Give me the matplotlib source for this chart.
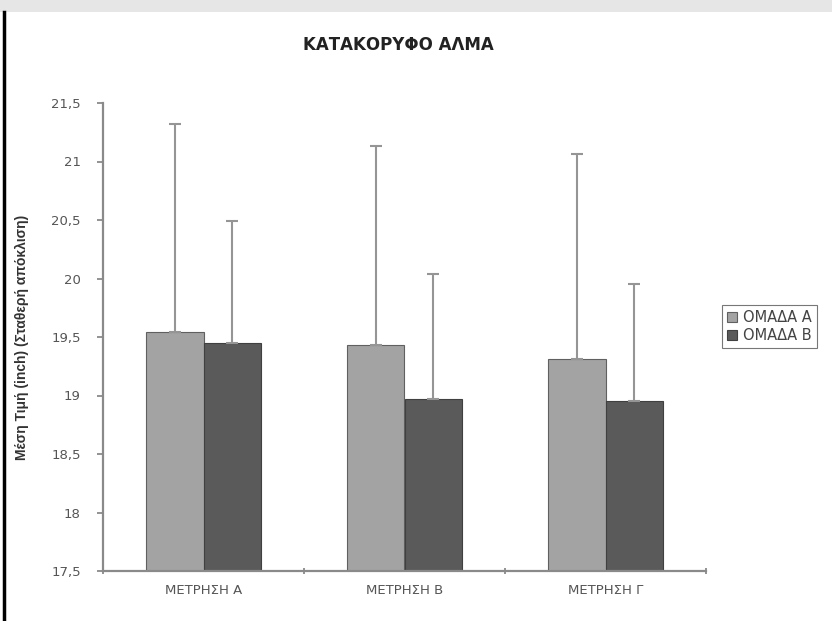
import matplotlib
matplotlib.use("Agg")
import matplotlib.pyplot as plt
from matplotlib.patches import Rectangle
from matplotlib.lines import Line2D
import numpy as np

plt.rcParams['font.family'] = ['DejaVu Sans']

categories = ['ΜΕΤΡΗΣΗ Α', 'ΜΕΤΡΗΣΗ Β', 'ΜΕΤΡΗΣΗ Γ']
group_names = ['ΟΜΑΔΑ Α', 'ΟΜΑΔΑ Β']
means_a = [19.54, 19.43, 19.31]
means_b = [19.45, 18.97, 18.95]
sd_a = [1.78, 1.70, 1.75]
sd_b = [1.04, 1.07, 1.00]
yticks = [17.5, 18, 18.5, 19, 19.5, 20, 20.5, 21, 21.5]
ytick_labels = ['17,5', '18', '18,5', '19', '19,5', '20', '20,5', '21', '21,5']

fig = plt.figure(figsize=(8.32, 6.21), dpi=100)

# grey band at the top and black frame line on the left
fig.patches.append(Rectangle((0, 1 - 12 / 621), 1, 12 / 621, transform=fig.transFigure,
                             facecolor='#e6e6e6', edgecolor='none', zorder=0))
fig.lines.append(Line2D([4 / 832, 4 / 832], [0, 1 - 12 / 621], transform=fig.transFigure,
                        color='black', lw=2.5))

ax = fig.add_axes([103 / 832, 1 - 571 / 621, 603 / 832, 468 / 621])

x = np.arange(len(categories))
w = 1 / 3.5
err_kw = dict(ecolor='#959595', elinewidth=1.5, capsize=4, capthick=1.5)
ax.bar(x - w / 2, means_a, w, color='#a3a3a3', edgecolor='#606060', lw=0.8,
       yerr=[np.zeros(3), sd_a], error_kw=err_kw, label=group_names[0], zorder=2)
ax.bar(x + w / 2, means_b, w, color='#5a5a5a', edgecolor='#404040', lw=0.8,
       yerr=[np.zeros(3), sd_b], error_kw=err_kw, label=group_names[1], zorder=2)

ax.set_xlim(-0.5, 2.5)
ax.set_ylim(17.5, 21.5)
ax.set_yticks(yticks)
ax.set_yticklabels(ytick_labels)
ax.set_xticks(x)
ax.set_xticklabels(categories)
ax.set_xticks([-0.5, 0.5, 1.5, 2.5], minor=True)
ax.tick_params(axis='x', which='major', length=0, pad=9, labelsize=9.5, labelcolor='#555555')
ax.tick_params(axis='x', which='minor', length=4, color='#808080', width=1.2, direction='inout')
ax.tick_params(axis='y', length=4, color='#808080', width=1.2, labelsize=9.5,
               labelcolor='#555555', pad=12)

for s in ['top', 'right']:
    ax.spines[s].set_visible(False)
for s in ['left', 'bottom']:
    ax.spines[s].set_color('#8a8a8a')
    ax.spines[s].set_linewidth(1.6)

ax.set_ylabel('Μέση Τιμή (inch) (Σταθερή απόκλιση)', fontsize=10, fontweight='bold',
              color='#333333', labelpad=16, family='Liberation Sans')

fig.text(398 / 832, 1 - 45 / 621, 'ΚΑΤΑΚΟΡΥΦΟ ΑΛΜΑ', ha='center', va='center',
         fontsize=12, fontweight='bold', color='#222222')

leg = fig.legend(loc='upper left', bbox_to_anchor=(722 / 832, 1 - 305 / 621),
                 fontsize=10.5, frameon=True, fancybox=False, handlelength=0.7,
                 handleheight=0.7, handletextpad=0.4, borderpad=0.35, labelspacing=0.2,
                 borderaxespad=0)
leg.get_frame().set_edgecolor('#555555')
leg.get_frame().set_linewidth(0.8)
for t in leg.get_texts():
    t.set_color('#444444')

fig.savefig('out.png', dpi=100)
